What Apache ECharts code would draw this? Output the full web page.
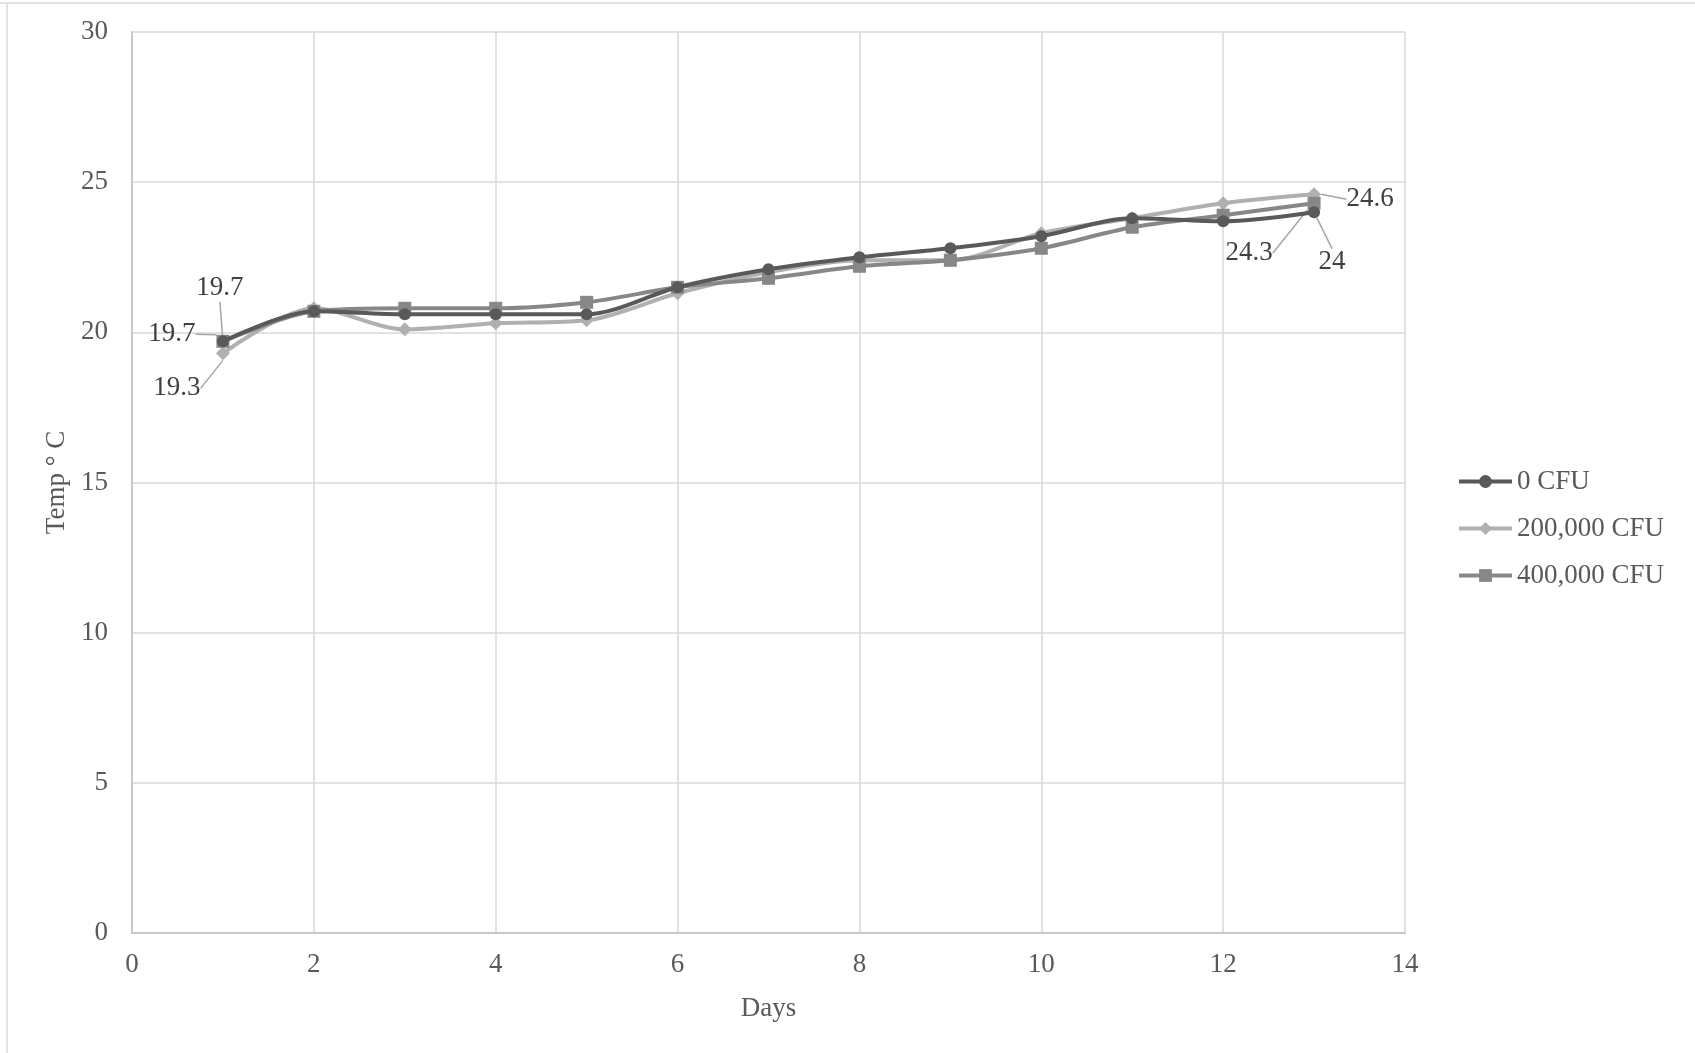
<!DOCTYPE html>
<html>
<head>
<meta charset="utf-8">
<script src="https://cdn.jsdelivr.net/npm/echarts@6/dist/echarts.min.js"></script>
<style>
html,body{margin:0;padding:0;background:#fff;}
#chart{width:1695px;height:1053px;}
</style>
</head>
<body>
<div id="chart"></div>
<script>
// ---- data ----
var days = [1,2,3,4,5,6,7,8,9,10,11,12,13];
var seriesNames = ['0 CFU', '200,000 CFU', '400,000 CFU'];
var cfu0 =      [19.7, 20.7, 20.6, 20.6, 20.6, 21.5, 22.1, 22.5, 22.8, 23.2, 23.8, 23.7, 24.0];
var cfu200k =   [19.3, 20.8, 20.1, 20.3, 20.4, 21.3, 22.0, 22.4, 22.4, 23.3, 23.8, 24.3, 24.6];
var cfu400k =   [19.7, 20.7, 20.8, 20.8, 21.0, 21.5, 21.8, 22.2, 22.4, 22.8, 23.5, 23.9, 24.3];
var xTicks = {min: 0, max: 14, interval: 2};
var yTicks = {min: 0, max: 30, interval: 5};
var labelledIdx = [0, 12]; // data labels shown at first and last day

// ---- styles ----
var FONT = '"Liberation Serif", "Times New Roman", serif';
var TXT = '#595959';
var FS = 27;
var colors = ['#595959', '#b0b0b0', '#878787'];
var symbols = ['circle', 'diamond', 'rect'];
var symbolSizes = [12, 14, 13];
// label offsets (relative) per series: [first, last]
var labelOffsets = [
  [{dx: -3, dy: -53}, {dx: 18, dy: 50}],
  [{dx: -46, dy: 35}, {dx: 56, dy: 5}],
  [{dx: -51, dy: -7}, {dx: -65, dy: 50}]
];

function pairs(vals){ return days.map(function(d,i){ return [d, vals[i]]; }); }
var allVals = [cfu0, cfu200k, cfu400k];

var series = allVals.map(function(vals, s){
  return {
    name: seriesNames[s],
    type: 'line',
    smooth: 0.3,
    data: pairs(vals).map(function(p, i){
      var item = {value: p};
      if (labelledIdx.indexOf(i) >= 0) {
        item.label = {show: true};
      }
      return item;
    }),
    symbol: symbols[s],
    symbolSize: symbolSizes[s],
    showAllSymbol: true,
    itemStyle: {color: colors[s]},
    lineStyle: {color: colors[s], width: 4},
    z: s === 0 ? 4 : (s === 2 ? 3 : 2),
    label: {
      show: false,
      position: 'inside',
      fontFamily: FONT,
      fontSize: FS,
      color: '#404040',
      formatter: function(p){ return String(p.value[1]); }
    },
    labelLine: {show: true, lineStyle: {color: '#a6a6a6', width: 1.5}},
    labelLayout: function(params){
      var k = labelledIdx.indexOf(params.dataIndex);
      if (k < 0) return {};
      return {dx: labelOffsets[s][k].dx, dy: labelOffsets[s][k].dy};
    },
    emphasis: {disabled: true},
    animation: false
  };
});

var chart = echarts.init(document.getElementById('chart'));
chart.setOption({
  backgroundColor: '#ffffff',
  animation: false,
  textStyle: {fontFamily: FONT},
  grid: {left: 132, right: 290, top: 32, bottom: 120, containLabel: false},
  xAxis: {
    type: 'value',
    min: xTicks.min, max: xTicks.max, interval: xTicks.interval,
    name: 'Days', nameLocation: 'middle', nameGap: 62,
    nameTextStyle: {fontFamily: FONT, fontSize: 27, color: TXT},
    axisLine: {show: true, lineStyle: {color: '#c8c8c8', width: 2}},
    axisTick: {show: false},
    axisLabel: {fontFamily: FONT, fontSize: FS, color: TXT, margin: 18},
    splitLine: {show: true, lineStyle: {color: '#d9d9d9', width: 1.5}}
  },
  yAxis: {
    type: 'value',
    min: yTicks.min, max: yTicks.max, interval: yTicks.interval,
    name: 'Temp ° C', nameLocation: 'middle', nameGap: 57, nameRotate: 90,
    nameTextStyle: {fontFamily: FONT, fontSize: 27, color: TXT},
    axisLine: {show: true, lineStyle: {color: '#c8c8c8', width: 2}},
    axisTick: {show: false},
    axisLabel: {fontFamily: FONT, fontSize: FS, color: TXT, margin: 24},
    splitLine: {show: true, lineStyle: {color: '#d9d9d9', width: 1.5}}
  },
  legend: {
    orient: 'vertical',
    left: 1452, top: 463,
    itemWidth: 53, itemHeight: 16, itemGap: 20,
    textStyle: {fontFamily: FONT, fontSize: FS, color: TXT, padding: [0,0,0,0]},
    data: seriesNames.map(function(n, s){
      return {name: n, itemStyle: {color: colors[s]}, lineStyle: {color: colors[s], width: 4}};
    })
  },
  graphic: [
    {type: 'line', shape: {x1: 0, y1: 3, x2: 1695, y2: 3}, style: {stroke: '#d9d9d9', lineWidth: 1.5}},
    {type: 'line', shape: {x1: 7, y1: 3, x2: 7, y2: 1053}, style: {stroke: '#d9d9d9', lineWidth: 1.5}}
  ],
  series: series
});
</script>
</body>
</html>
